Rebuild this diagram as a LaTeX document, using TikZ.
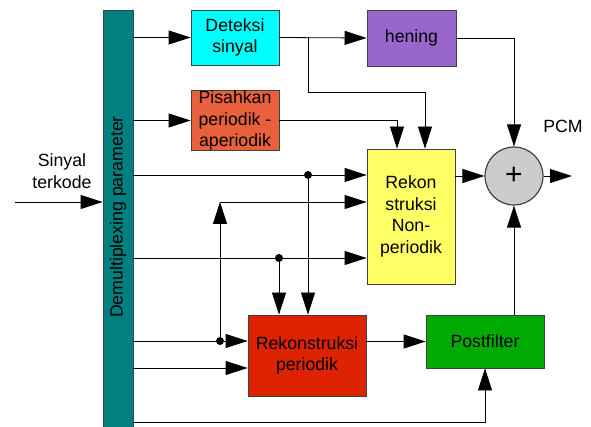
\documentclass[tikz,border=0pt]{standalone}
\usepackage{fontspec}
\setmainfont{Liberation Sans}
\usetikzlibrary{arrows.meta,calc}
\definecolor{teal1}{HTML}{008080}
\definecolor{cyan1}{HTML}{00FFFF}
\definecolor{purple1}{HTML}{9966CC}
\definecolor{orange1}{HTML}{E8603C}
\definecolor{yellow1}{HTML}{FFFF66}
\definecolor{red1}{HTML}{DD2200}
\definecolor{green1}{HTML}{00AA00}
\definecolor{gray1}{HTML}{CCCCCC}
\tikzset{
  blk/.style={draw=black!75, line width=0.8pt, align=center, inner sep=0pt,
    font=\fontsize{17.7}{21.7}\selectfont},
  arr/.style={-{Triangle[length=22pt,width=14pt]}, line width=0.8pt},
  dot/.style={circle, fill=black, inner sep=0pt, minimum size=8pt},
  lbl/.style={align=center, font=\fontsize{17.7}{21.7}\selectfont}
}
\begin{document}
\begin{tikzpicture}[x=1pt,y=-1pt]
\useasboundingbox (0,0) rectangle (591,427);
% blocks
\node[blk, fill=teal1, minimum width=30pt, minimum height=430pt] (dm) at (118,225) {};
\node[lbl, rotate=90] (dmt) at (118,217) {Demultiplexing parameter};
\node[blk, fill=cyan1, minimum width=88pt, minimum height=55pt] (det) at (235,37.5) {Deteksi\\sinyal};
\node[blk, fill=purple1, minimum width=89pt, minimum height=56pt] (hen) at (411.5,38) {hening};
\node[blk, fill=orange1, minimum width=88pt, minimum height=55pt] (pis) at (235,120.5) {Pisahkan\\periodik -\\aperiodik};
\node[blk, fill=yellow1, minimum width=88pt, minimum height=135pt] (yel) at (411,216.5) {Rekon\\struksi\\Non-\\periodik};
\node[blk, fill=gray1, circle, minimum size=58pt, line width=1.2pt, font=\fontsize{30}{30}\selectfont] (sum) at (514,176) {+};
\node[blk, fill=red1, minimum width=118pt, minimum height=81pt] (rek) at (307,355.5) {Rekonstruksi\\periodik};
\node[blk, fill=green1, minimum width=118pt, minimum height=53pt] (pf) at (485,341.5) {Postfilter};
\node[lbl] (sin) at (62,171) {Sinyal\\terkode};
\node[lbl] (pcm) at (563,126) {PCM};
% junctions and coordinates
\coordinate (in0) at (15,202);
\coordinate (out0) at (572,176);
\coordinate (j1) at (308,37.5);
\coordinate (c1) at (425,92);
\coordinate (c2) at (397,120.5);
\node[dot] (d1) at (308,175) {};
\node[dot] (d2) at (279,258) {};
\node[dot] (d3) at (220,341) {};
\coordinate (k3) at (220,202);
\coordinate (b1) at (485,422);
% connectors
\draw[arr] (in0) -- (dm.west |- in0);
\draw[arr] (dm.east |- det.west) -- (det.west);
\draw[arr] (det.east) -- (hen.west);
\draw[arr] (j1) |- (c1) -- (yel.north -| c1);
\draw[arr] (dm.east |- pis.west) -- (pis.west);
\draw[arr] (pis.east) -| (yel.north -| c2);
\draw[arr] (hen.east) -| (sum.north);
\draw[arr] (dm.east |- d1) -- (d1) -- (yel.west |- d1);
\draw[arr] (k3) -- (yel.west |- k3);
\draw[arr] (dm.east |- d2) -- (d2) -- (yel.west |- d2);
\draw[arr] (d1) -- (rek.north -| d1);
\draw[arr] (d2) -- (rek.north -| d2);
\draw[arr] (dm.east |- d3) -- (d3) -- (rek.west |- d3);
\draw[arr] (d3) -- (k3);
\draw[arr] (dm.east |- 0,368) -- (rek.west |- 0,368);
\draw[arr] (rek.east |- pf.west) -- (pf.west);
\draw[arr] (dm.east |- b1) -- (b1) -- (pf.south);
\draw[arr] (pf.north -| sum.south) -- (sum.south);
\draw[arr] (yel.east |- sum.west) -- (sum.west);
\draw[arr] (sum.east) -- (out0);
\end{tikzpicture}
\end{document}
